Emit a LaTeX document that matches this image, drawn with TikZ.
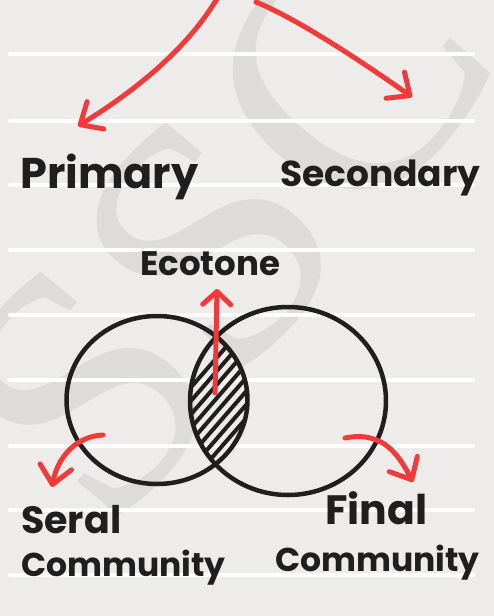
\documentclass[tikz,border=0pt]{standalone}
\usepackage{fontspec}
\setmainfont{Poppins}
\newfontfamily\wmfont{Liberation Serif}
\usetikzlibrary{arrows.meta,shapes.geometric}
\definecolor{paper}{HTML}{EDECEA}
\definecolor{penred}{HTML}{F23A3A}
\definecolor{ink}{HTML}{1F1F1F}
\definecolor{wmgray}{HTML}{DDDCDA}

\begin{document}
\begin{tikzpicture}[x=1pt,y=-1pt,
  ruleline/.style={white, line width=4.5pt, line cap=round},
  redarrow/.style={penred, line width=5pt, line cap=round, line join=round,
    -{Straight Barb[length=18pt,width=32pt,round]}},
  script/.style={ink, inner sep=0pt},
  ring/.style={ellipse, draw=ink, line width=4.5pt, inner sep=0pt},
  hatch/.style={ink, line width=4pt, line cap=round}]

% paper and its ruling
\fill[paper] (0,0) rectangle (494,616);
\useasboundingbox (0,0) rectangle (494,616);
\node[wmgray, rotate=50, inner sep=0pt,
      font=\wmfont\fontsize{350}{350}\selectfont] (wm) at (222,228) {SSC};
\foreach \y in {54,121,185,250,315,380,446,510,575}
  \draw[ruleline] (10,\y) -- (473,\y);

% the two communities and their overlap
\node[ring, minimum width=181pt, minimum height=168pt] (seral) at (157,400) {};
\node[ring, minimum width=196pt, minimum height=188pt] (final) at (288,401) {};
\begin{scope}
  \clip (157,400) ellipse [x radius=90.5, y radius=84];
  \clip (288,401) ellipse [x radius=98, y radius=94];
  \foreach \k in {0,...,7}
    \draw[hatch] (183,{362+13.5*\k+34.5}) -- (253,{362+13.5*\k-46});
\end{scope}

% labels
\node[script, font=\bfseries\fontsize{43}{43}\selectfont, anchor=base west] (primary) at (20,188) {Primary};
\node[script, font=\bfseries\fontsize{36}{36}\selectfont, anchor=base west] (secondary) at (280,186) {Secondary};
\node[script, font=\bfseries\fontsize{34}{34}\selectfont, anchor=base west] (ecotone) at (140,275) {Ecotone};
\node[script, font=\bfseries\fontsize{33}{43}\selectfont, align=left, anchor=north west] (seraltxt) at (21,505)
  {{\fontsize{38}{43}\selectfont Seral}\\Community};
\node[script, font=\bfseries\fontsize{33}{47}\selectfont, align=left, anchor=north west] (finaltxt) at (275,491)
  {\hspace*{50pt}{\fontsize{41}{47}\selectfont Final}\\Community};

% arrows
\coordinate (topA) at (218,-3);
\coordinate (topB) at (256,2);
\coordinate (priTip) at (78,126);
\coordinate (secTip) at (412,97);
\coordinate (ecoStart) at (215,393);
\coordinate (ecoTip) at (217,289);
\coordinate (serStart) at (103,435);
\coordinate (serTip) at (52,487);
\coordinate (finStart) at (345,438);
\coordinate (finTip) at (413,482);

\draw[redarrow] (topA) .. controls (190,45) and (140,88) .. (priTip);
\draw[redarrow] (topB) .. controls (300,20) and (368,66) .. (secTip);
\draw[redarrow, -{Straight Barb[length=13pt,width=28pt,round]}] (ecoStart) -- (ecoTip);
\draw[redarrow] (serStart) .. controls (78,436) and (58,455) .. (serTip);
\draw[redarrow] (finStart) .. controls (385,430) and (400,458) .. (finTip);
\end{tikzpicture}
\end{document}
